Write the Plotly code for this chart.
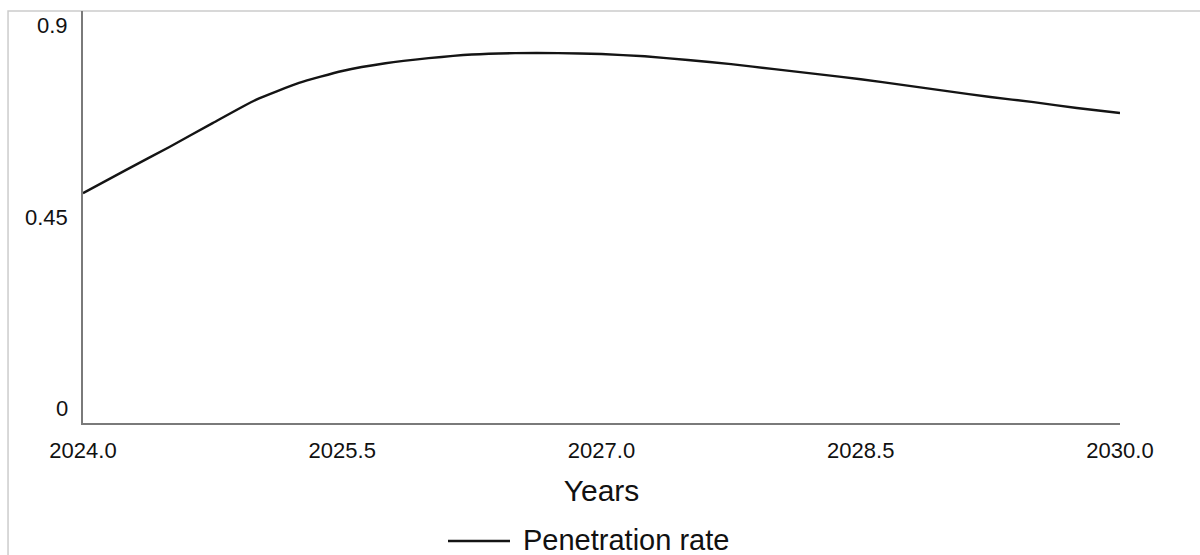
import plotly.graph_objects as go

# Simulated penetration rate, sampled every quarter year
years = [2024.0, 2024.25, 2024.5, 2024.75, 2025.0, 2025.25, 2025.5, 2025.75,
         2026.0, 2026.25, 2026.5, 2026.75, 2027.0, 2027.25, 2027.5, 2027.75,
         2028.0, 2028.25, 2028.5, 2028.75, 2029.0, 2029.25, 2029.5, 2029.75,
         2030.0]
penetration_rate = [0.502, 0.553, 0.603, 0.655, 0.706, 0.743, 0.769, 0.786,
                    0.797, 0.805, 0.808, 0.808, 0.806, 0.801, 0.793, 0.784,
                    0.773, 0.762, 0.751, 0.738, 0.725, 0.712, 0.701, 0.688,
                    0.677]

x_ticks = [2024.0, 2025.5, 2027.0, 2028.5, 2030.0]
y_ticks = [0, 0.45, 0.9]
y_tick_labels = ["0", "0.45", "0.9"]

FONT = "Liberation Sans, Arial, Helvetica, sans-serif"
TEXT = "#111111"
AXIS = "#7a7a7a"

fig = go.Figure()
fig.add_trace(go.Scatter(
    x=years, y=penetration_rate, mode="lines", name="Penetration rate",
    line=dict(color="#141414", width=2.4, shape="spline", smoothing=0.5),
    showlegend=False,
))

fig.update_layout(
    width=1200, height=555,
    margin=dict(l=83, r=80, t=11, b=132),
    paper_bgcolor="white", plot_bgcolor="white",
    font=dict(family=FONT, color=TEXT),
    xaxis=dict(
        range=[2024, 2030], tickvals=x_ticks, tickformat=".1f",
        showgrid=False, zeroline=False, showline=True, linecolor=AXIS,
        linewidth=2, ticks="", tickfont=dict(size=22, color=TEXT),
        ticklabelstandoff=7,
        title=dict(text="Years", font=dict(size=30, color=TEXT), standoff=18),
    ),
    yaxis=dict(
        range=[0, 0.9], tickvals=y_ticks, showticklabels=False,
        showgrid=False, zeroline=False, showline=True, linecolor=AXIS,
        linewidth=2, ticks="",
    ),
)

# y tick labels kept inside the axis span: top hangs down, bottom sits up
anchors = {0: "bottom", 0.45: "middle", 0.9: "top"}
for val, lab in zip(y_ticks, y_tick_labels):
    fig.add_annotation(
        x=0, xref="paper", y=val, yref="y", text=lab, showarrow=False,
        xanchor="right", yanchor=anchors[val], xshift=-13,
        font=dict(size=22, color=TEXT, family=FONT),
    )

# light frame around the chart
fig.add_shape(type="rect", xref="paper", yref="paper",
              x0=-0.0723, x1=1.2, y0=-0.6, y1=1.0,
              line=dict(color="#cccccc", width=1.5), layer="below")

# legend entry drawn below the axis title
fig.add_shape(type="line", xref="paper", yref="paper",
              x0=(448 - 83) / 1037, x1=(510 - 83) / 1037,
              y0=-(541 - 423) / 412, y1=-(541 - 423) / 412,
              line=dict(color="#141414", width=2.4))
fig.add_annotation(
    x=(521 - 83) / 1037, xref="paper", y=-(540 - 423) / 412, yref="paper",
    text="Penetration rate", showarrow=False, xanchor="left",
    yanchor="middle", height=28, valign="middle",
    font=dict(size=29, color=TEXT, family=FONT),
)

fig.write_html("out.html")
